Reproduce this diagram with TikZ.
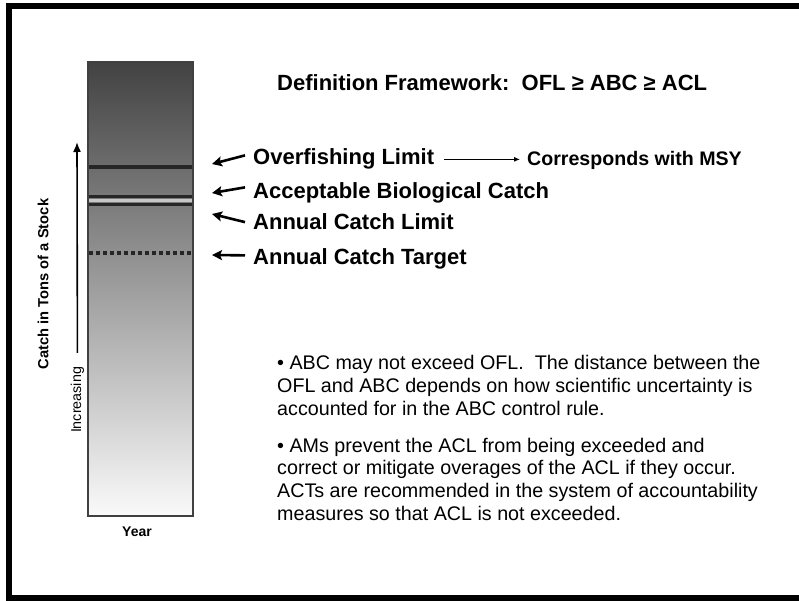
\documentclass[tikz,border=0pt]{standalone}
\usepackage{fontspec}
\setmainfont{Liberation Sans}
\usetikzlibrary{arrows.meta,positioning}
\tikzstyle{lbl}=[anchor=base west,inner sep=0pt,font=\fontsize{22}{26}\selectfont\bfseries]
\tikzstyle{ptr}=[-{Stealth[length=10pt,width=10pt,inset=2pt]},line width=2.6pt]
\tikzstyle{note}=[anchor=base west,inner sep=0pt,align=left,font=\fontsize{19.7}{22.6}\selectfont]
\tikzset{
  level/.style={line width=3.2pt,draw=black!85},
  colbar/.style={rectangle,draw=black!75,line width=2.5pt,minimum width=105pt,minimum height=454pt,
    top color=black!74,bottom color=black!2,inner sep=0pt},
  axislbl/.style={rotate=90,font=\fontsize{14.7}{17}\selectfont\bfseries}
}

\begin{document}
\begin{tikzpicture}[x=1pt,y=-1pt]
  \useasboundingbox (0,0) rectangle (799,601);
  % frame, open on the right
  \draw[line width=6pt] (815,6) -- (9,6) -- (9,598) -- (815,598);

  \node[colbar] (bar) at (140.5,289) {};
  \draw[level] (89,167) -- (192,167);
  \fill[black!22] (89,199) rectangle (192,202.5);
  \draw[level] (89,196.5) -- (192,196.5);
  \draw[level] (89,204.5) -- (192,204.5);
  \draw[level,dash pattern=on 4pt off 3pt] (89,253) -- (192,253);

  \node[axislbl] (yaxis) at (43,284) {Catch in Tons of a Stock};
  \node[rotate=90,inner xsep=14pt,inner ysep=1pt,font=\fontsize{14.3}{17}\selectfont] (incr) at (77.5,400) {Increasing};
  \coordinate (uptip) at (77,142);
  \draw[-{Latex[length=10pt,width=8pt]},line width=1.6pt] (incr) -- (uptip);
  \node[font=\fontsize{14}{17}\selectfont\bfseries] (year) at (137,532) {Year};

  \node[lbl] (title) at (277,91) {Definition Framework:\ \ OFL ≥ ABC ≥ ACL};

  \node[lbl] (ofl) at (253,165) {Overfishing Limit};
  \node[lbl] (abc) at (253,199) {Acceptable Biological Catch};
  \node[lbl] (acl) at (253,230) {Annual Catch Limit};
  \node[lbl] (act) at (253,265) {Annual Catch Target};

  \coordinate (ofltip) at (212,164);
  \coordinate (abctip) at (212,193);
  \coordinate (acltip) at (212,214);
  \coordinate (acttip) at (212,255);
  \draw[ptr] ([xshift=-8pt,yshift=4pt]ofl.west) -- (ofltip);
  \draw[ptr] ([xshift=-8pt,yshift=6pt]abc.west) -- (abctip);
  \draw[ptr] ([xshift=-8pt]acl.west) -- (acltip);
  \draw[ptr] ([xshift=-8pt,yshift=4pt]act.west) -- (acttip);

  \node[anchor=base west,inner sep=0pt,font=\fontsize{19.6}{24}\selectfont\bfseries] (msy) at (527,166) {Corresponds with MSY};
  \draw[-{Latex[length=6pt,width=5pt]},line width=1pt,shorten >=7pt] ([xshift=10pt]ofl.east) -- (ofl.east -| msy.west);

  % base anchor sits on the last line
  \node[note] (note1) at (277,415) {• ABC may not exceed OFL.\ \ The distance between the\\
    OFL and ABC depends on how scientific uncertainty is\\
    accounted for in the ABC control rule.};
  \node[note] (note2) at (277,520) {• AMs prevent the ACL from being exceeded and\\
    correct or mitigate overages of the ACL if they occur.\\
    ACTs are recommended in the system of accountability\\
    measures so that ACL is not exceeded.};
\end{tikzpicture}
\end{document}
